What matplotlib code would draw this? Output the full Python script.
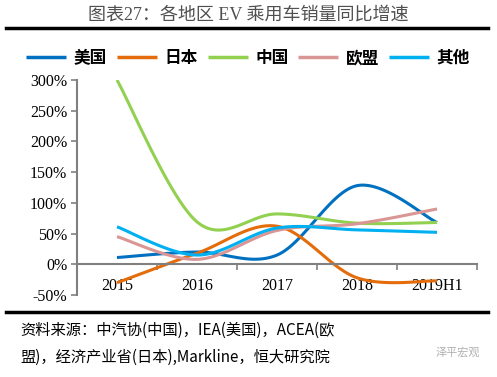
import numpy as np
import matplotlib
matplotlib.use("Agg")
import matplotlib.pyplot as plt
from matplotlib.lines import Line2D

years = ["2015", "2016", "2017", "2018", "2019H1"]
usa = [11, 20, 15, 128, 68]
japan = [-30, 18, 62, -22, -27]
china = [300, 69, 82, 67, 68]
eu = [45, 8, 55, 66, 90]
other = [61, 15, 59, 56, 52]

names = ["美国", "日本", "中国", "欧盟", "其他"]
colors = ["#0070C0", "#E46C0A", "#92D050", "#D99694", "#00B0F0"]
yticks = [-50, 0, 50, 100, 150, 200, 250, 300]

CJK = "Noto Sans CJK SC"


def smooth(xs, ys, n=30):
    # excel style smoothed line (cardinal bezier through the points)
    xs = np.asarray(xs, float)
    ys = np.asarray(ys, float)
    px = np.concatenate([[xs[0]], xs, [xs[-1]]])
    py = np.concatenate([[ys[0]], ys, [ys[-1]]])
    outx, outy = [], []
    t = np.linspace(0, 1, n)
    for i in range(1, len(px) - 2):
        p0 = np.array([px[i], py[i]])
        p3 = np.array([px[i + 1], py[i + 1]])
        c1 = p0 + (np.array([px[i + 1], py[i + 1]]) - np.array([px[i - 1], py[i - 1]])) / 6
        c2 = p3 - (np.array([px[i + 2], py[i + 2]]) - np.array([px[i], py[i]])) / 6
        b = (np.outer((1 - t) ** 3, p0) + np.outer(3 * (1 - t) ** 2 * t, c1)
             + np.outer(3 * (1 - t) * t ** 2, c2) + np.outer(t ** 3, p3))
        outx.extend(b[:, 0])
        outy.extend(b[:, 1])
    return outx, outy


fig = plt.figure(figsize=(4.97, 3.77), dpi=100)
ax = fig.add_axes([77 / 497, 1 - 295 / 377, 400 / 497, 215 / 377])

x = np.arange(len(years))
for vals, c, name in zip([usa, japan, china, eu, other], colors, names):
    sx, sy = smooth(x, vals)
    ax.plot(sx, sy, color=c, lw=2.2, label=name, solid_capstyle="butt")

ax.set_xlim(-0.5, 4.5)
ax.set_ylim(-50, 300)
ax.set_yticks(yticks)
ax.set_yticklabels([f"{v}%" for v in yticks], family="Liberation Serif", fontsize=11.5)

ax.spines["top"].set_visible(False)
ax.spines["right"].set_visible(False)
ax.spines["bottom"].set_position(("data", 0))
for s in ["left", "bottom"]:
    ax.spines[s].set_color("#808080")
    ax.spines[s].set_linewidth(1.5)

ax.set_xticks(np.arange(-0.5, 5, 1))
ax.set_xticklabels([])
ax.set_xticks(x, minor=True)
ax.set_xticklabels(years, minor=True, family="Liberation Serif", fontsize=11.5)
ax.tick_params(axis="x", which="major", direction="out", length=4, color="#808080", width=1.2)
ax.tick_params(axis="x", which="minor", length=0, pad=10)
ax.tick_params(axis="y", direction="out", length=4, color="#808080", width=1.2, pad=3)

leg = ax.legend(loc="center", bbox_to_anchor=(248 / 497, 1 - 58 / 377), bbox_transform=fig.transFigure,
                ncol=5, frameon=False, prop={"family": CJK, "weight": "bold", "size": 12},
                handlelength=2.4, handletextpad=0.45, columnspacing=0.6)
for l in leg.get_lines():
    l.set_linewidth(2.5)

fig.text(0.5, 1 - 15 / 377, "图表27：各地区 EV 乘用车销量同比增速", ha="center", va="center",
         family=["Liberation Serif", CJK], fontsize=13, color="#505050")
fig.add_artist(Line2D([6 / 497, 488 / 497], [1 - 28 / 377] * 2, color="black", lw=2.5))
fig.add_artist(Line2D([6 / 497, 488 / 497], [1 - 312 / 377] * 2, color="black", lw=2.5))

fig.text(20 / 497, 1 - 330 / 377, "资料来源：中汽协(中国)，IEA(美国)，ACEA(欧", ha="left", va="center",
         family=[CJK], fontsize=11, style="italic")
fig.text(20 / 497, 1 - 357 / 377, "盟)，经济产业省(日本),Markline，恒大研究院", ha="left", va="center",
         family=[CJK], fontsize=11, style="italic")
fig.text(480 / 497, 1 - 352 / 377, "泽平宏观", ha="right", va="center",
         family=[CJK], fontsize=8, color="#b0b0b0")

fig.savefig("out.png", dpi=100)
